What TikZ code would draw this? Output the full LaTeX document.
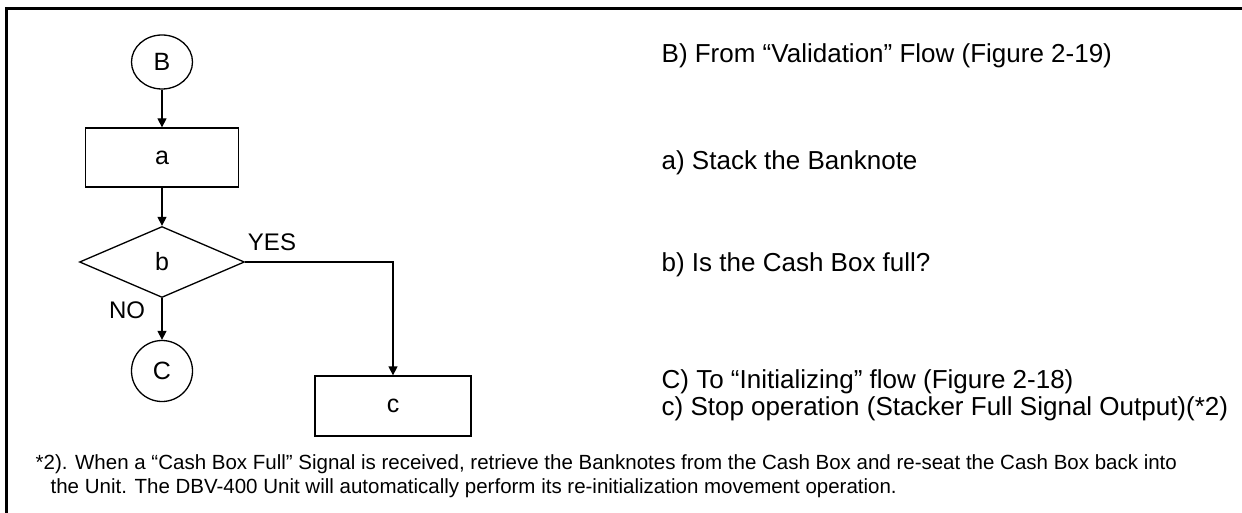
\documentclass[tikz,border=0pt]{standalone}
\usepackage{fontspec}
\setmainfont{Liberation Sans}
\usetikzlibrary{arrows.meta,shapes.geometric}

\begin{document}
\begin{tikzpicture}[
  x=1pt, y=-1pt,
  font=\fontsize{25}{30}\selectfont,
  line width=1.3pt,
  conn/.style     = {draw, ellipse, inner sep=0pt},
  box/.style      = {draw, rectangle, inner sep=0pt, minimum height=59pt},
  test/.style     = {draw, diamond, inner sep=0pt, minimum width=165pt, minimum height=71pt},
  arr/.style      = {-{Triangle[length=9pt,width=9pt]}},
  branch/.style   = {font=\fontsize{24}{28}\selectfont, inner sep=0pt},
  legend/.style   = {anchor=base west, inner sep=0pt, font=\fontsize{26}{30}\selectfont},
  footnote/.style = {anchor=base west, inner sep=0pt, font=\fontsize{20.5}{24}\selectfont},
]
\useasboundingbox (0,0) rectangle (1242,513);

% ---------- frame ----------
\draw[line width=3pt] (6.5,513) -- (6.5,8.5) -- (1242,8.5);

% ---------- flow ----------
\node[conn, minimum width=61pt, minimum height=54pt] (from) at (162,62) {B};
\node[box, minimum width=153pt] (stack) at (162,157.5) {a};
\node[test] (full) at (162,262) {b};
\node[conn, minimum width=61pt, minimum height=61pt] (to) at (162,371) {C};
\node[box, minimum width=156pt, minimum height=60pt] (stop) at (393,406) {c};

\node[branch] (yes) at (272,242) {YES};
\node[branch] (no) at (127,310.5) {NO};

% ---------- arrows ----------
\draw[arr] (from) -- (stack);
\draw[arr] (stack) -- (full);
\draw[arr] (full.south) -- (to.north);
\draw[arr] (full.east) -| (stop.north);

% ---------- legend ----------
\node[legend] (legB) at (661,63)  {B) From “Validation” Flow (Figure 2-19)};
\node[legend] (lega) at (661,170) {a) Stack the Banknote};
\node[legend] (legb) at (661,271) {b) Is the Cash Box full?};
\node[legend] (legC) at (661,388) {C) To “Initializing” flow (Figure 2-18)};
\node[legend] (legc) at (661,415) {c) Stop operation (Stacker Full Signal Output)(*2)};

% ---------- note ----------
\node[footnote] (note1) at (35,469)
  {*2). When a “Cash Box Full” Signal is received, retrieve the Banknotes from the Cash Box and re-seat the Cash Box back into};
\node[footnote] (note2) at (50,493)
  {the Unit. The DBV-400 Unit will automatically perform its re-initialization movement operation.};

\end{tikzpicture}
\end{document}
